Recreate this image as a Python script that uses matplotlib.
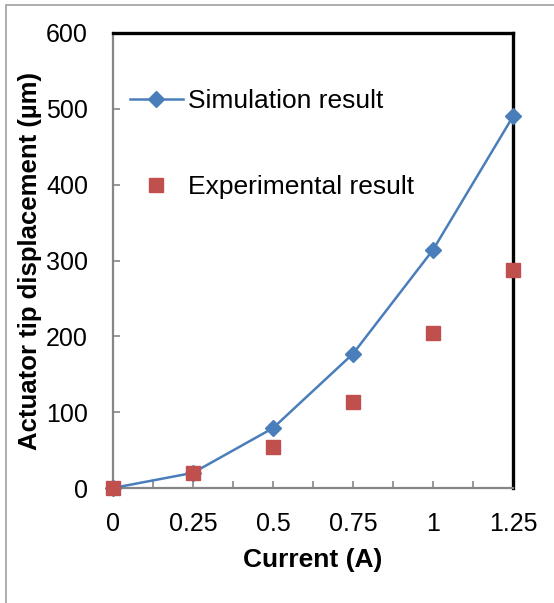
import matplotlib
matplotlib.use("Agg")
import matplotlib.pyplot as plt
from matplotlib.patches import Rectangle

current = [0, 0.25, 0.5, 0.75, 1.0, 1.25]
simulation = [0, 20, 79, 177, 314, 490]
experimental = [0, 20, 54, 113, 204, 288]
xtick_labels = ["0", "0.25", "0.5", "0.75", "1", "1.25"]
yticks = [0, 100, 200, 300, 400, 500, 600]

plt.rcParams['font.family'] = ['Liberation Sans', 'DejaVu Sans']

W, H = 554, 603
fig = plt.figure(figsize=(W/100, H/100), dpi=100)
fig.patches.append(Rectangle((6/W, -0.5), 2, 1.5 - 5/H, transform=fig.transFigure,
                             fill=False, edgecolor='#a0a0a0', linewidth=1.2))

ax = fig.add_axes([113/W, 1 - 488/H, 400/W, 455/H])
blue = '#4A7EBB'
red = '#C0504D'
ax.plot(current, simulation, color=blue, lw=1.8, marker='D', ms=8,
        label='Simulation result', clip_on=False, zorder=3)
ax.plot(current, experimental, ls='none', color=red, marker='s', ms=10.5,
        label='Experimental result', clip_on=False, zorder=4)

ax.set_xlim(0, 1.25)
ax.set_ylim(0, 600)
ax.set_xticks(current)
ax.set_xticklabels(xtick_labels)
ax.set_xticks([0.125, 0.375, 0.625, 0.875, 1.125], minor=True)
ax.set_yticks(yticks)

for s in ['left', 'bottom']:
    ax.spines[s].set_color('#868686')
    ax.spines[s].set_linewidth(1.6)
for s in ['top', 'right']:
    ax.spines[s].set_color('black')
    ax.spines[s].set_linewidth(2.4)

ax.tick_params(axis='both', which='both', direction='in', color='#868686',
               width=1.2, labelsize=18, length=5)
ax.tick_params(axis='x', which='both', pad=17)
ax.tick_params(axis='y', pad=18)

ax.set_xlabel('Current (A)', fontsize=19, fontweight='bold', labelpad=9)
ax.set_ylabel('Actuator tip displacement (µm)', fontsize=18.5, fontweight='bold', labelpad=3)

leg = ax.legend(loc='upper left', bbox_to_anchor=(130/W, 1 - 89/H),
                bbox_transform=fig.transFigure, frameon=False, fontsize=19,
                handlelength=2.0, handletextpad=0.2, labelspacing=2.35,
                borderpad=0, borderaxespad=0, markerscale=1.0)

fig.savefig('out.png', dpi=100)
